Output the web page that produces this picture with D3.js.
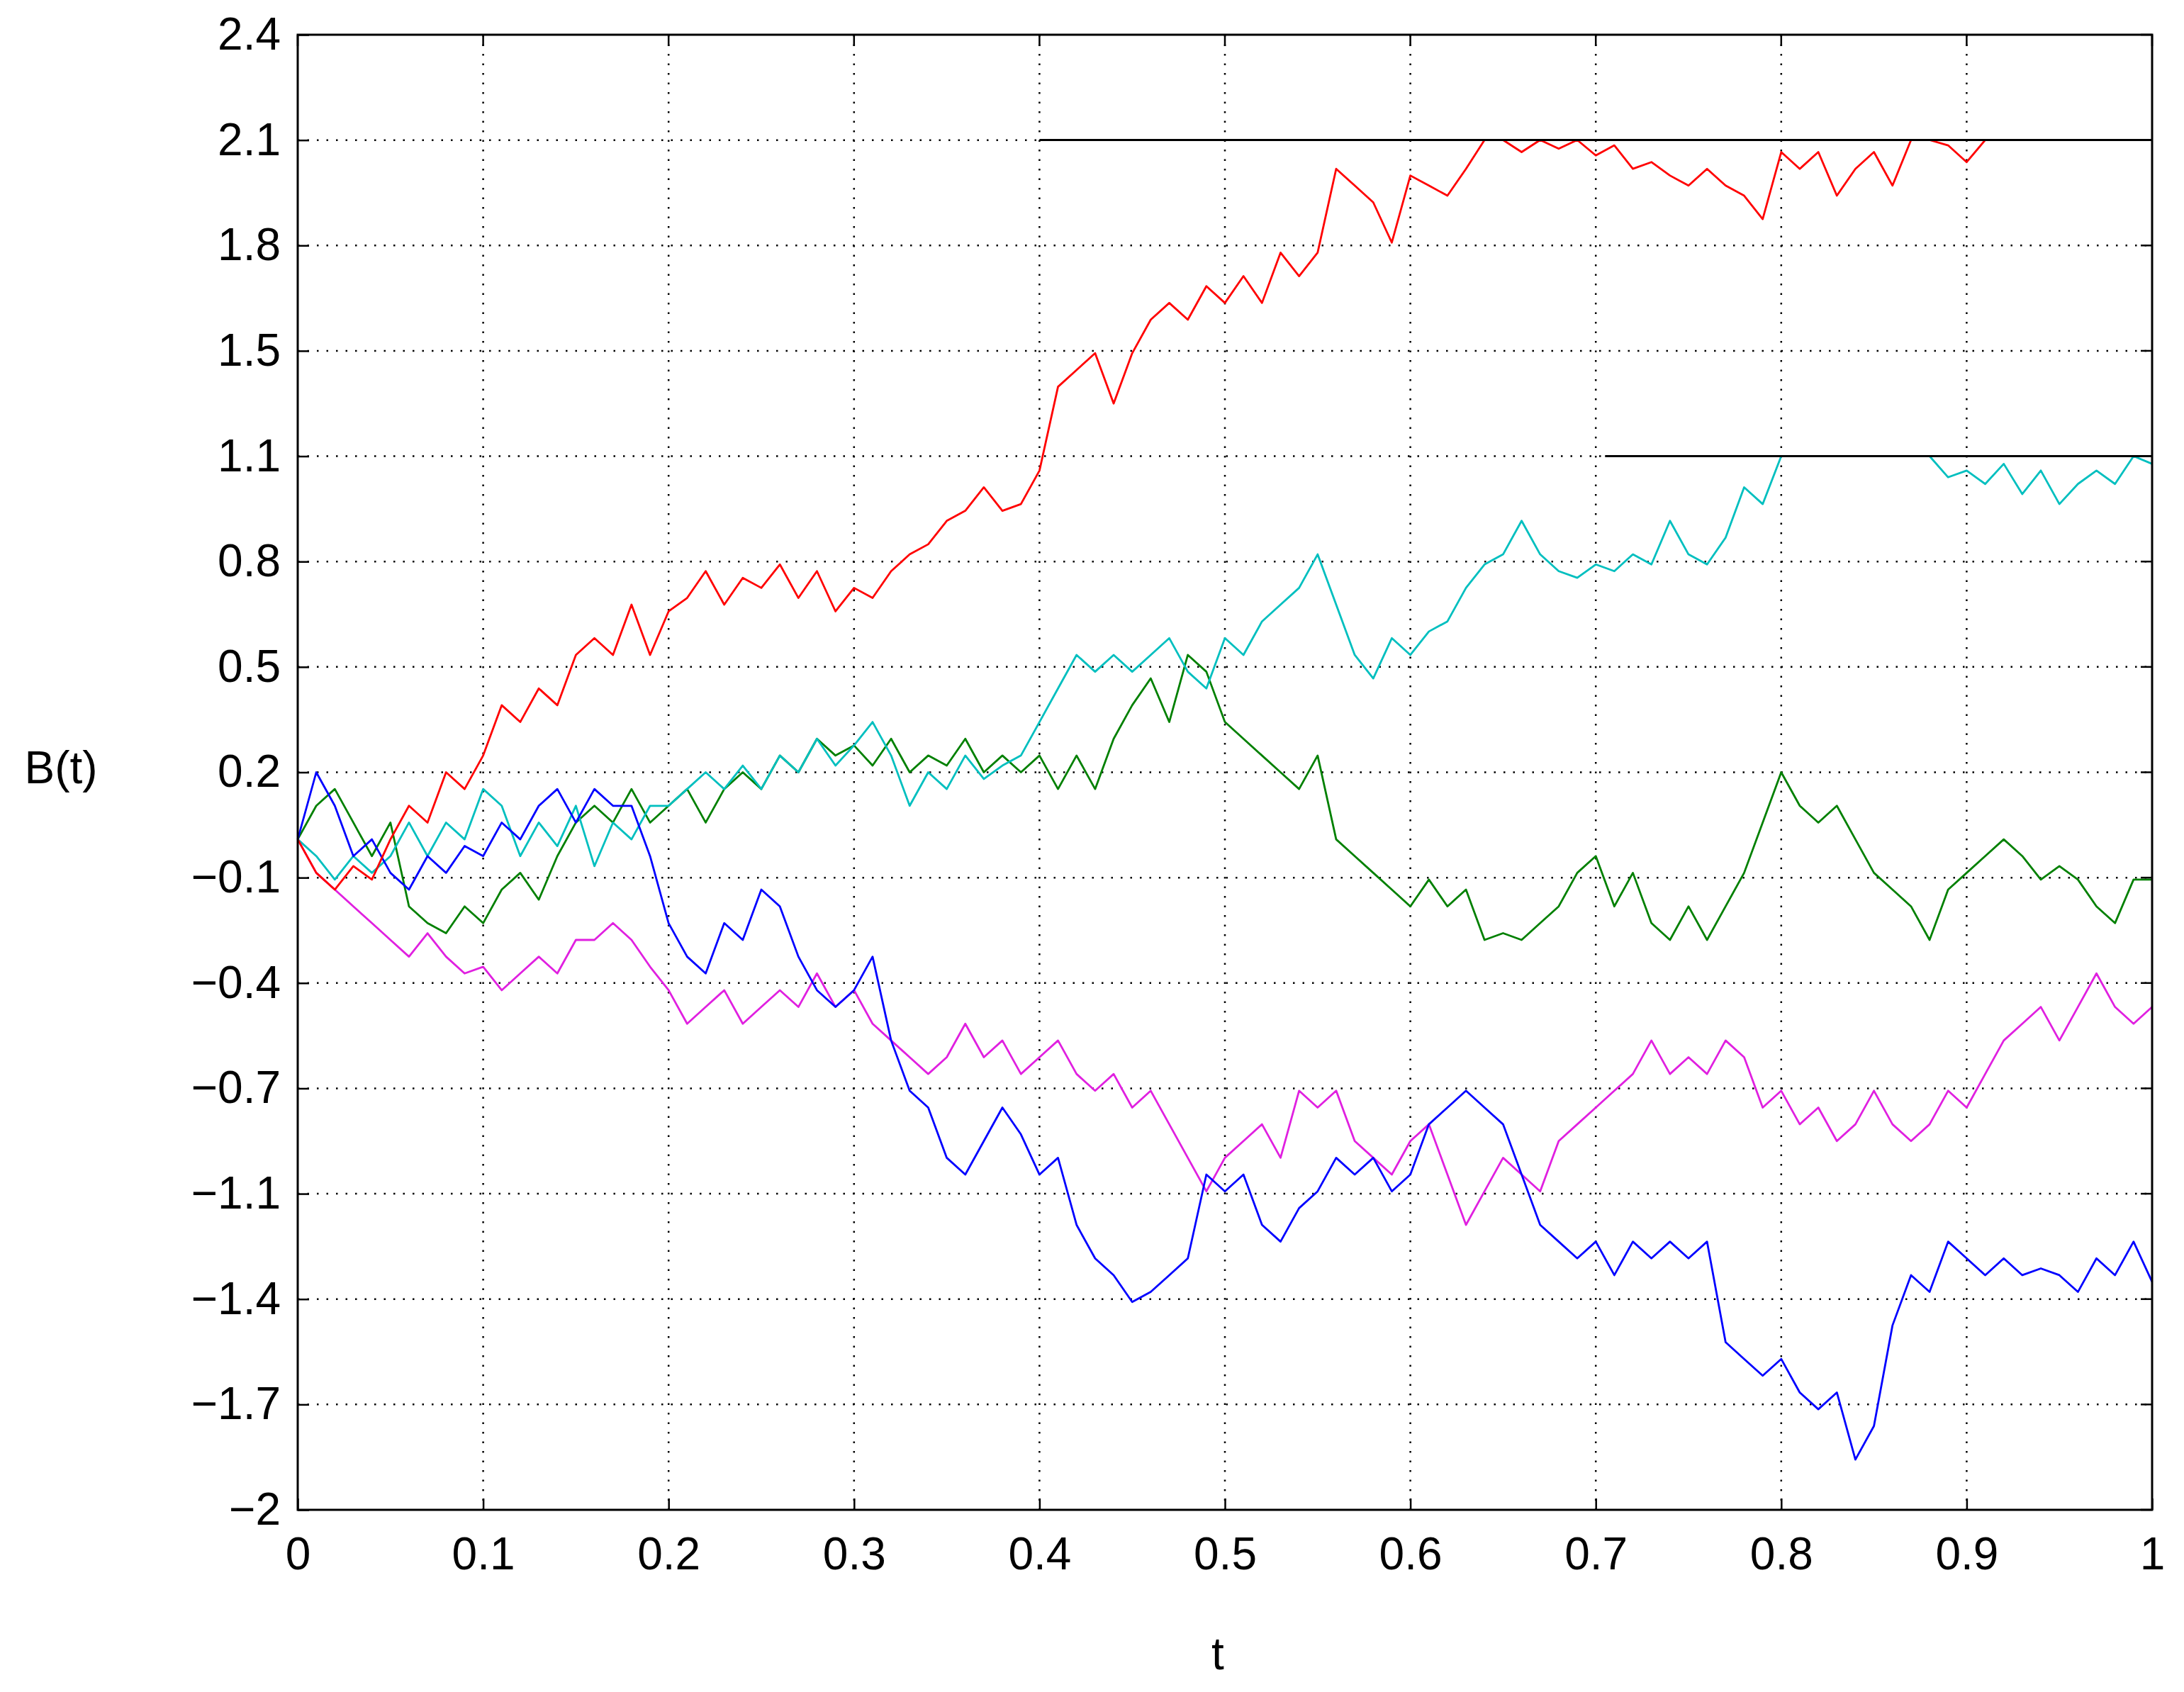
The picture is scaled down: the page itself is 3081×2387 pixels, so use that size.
<!DOCTYPE html>
<html><head><meta charset="utf-8">
<script src="https://cdn.jsdelivr.net/npm/d3@7/dist/d3.min.js"></script>
<style>body{margin:0;background:#fff}</style></head>
<body><svg id="c" width="3081" height="2387"></svg>
<script>
const xTicks=[0,0.1,0.2,0.3,0.4,0.5,0.6,0.7,0.8,0.9,1];
const xTickLabels=["0","0.1","0.2","0.3","0.4","0.5","0.6","0.7","0.8","0.9","1"];
const yTickLabels=["−2","−1.7","−1.4","−1.1","−0.7","−0.4","−0.1","0.2","0.5","0.8","1.1","1.5","1.8","2.1","2.4"];
const step=0.01;
const red=[0,-0.1,-0.15,-0.08,-0.12,0,0.1,0.05,0.2,0.15,0.25,0.4,0.35,0.45,0.4,0.55,0.6,0.55,0.7,0.55,0.68,0.72,0.8,0.7,0.78,0.75,0.82,0.72,0.8,0.68,0.75,0.72,0.8,0.85,0.88,0.95,0.98,1.05,0.98,1.0,1.1,1.35,1.4,1.45,1.3,1.45,1.55,1.6,1.55,1.65,1.6,1.68,1.6,1.75,1.68,1.75,2.0,1.95,1.9,1.78,1.98,1.95,1.92,2.0,2.086,2.086,2.05,2.086,2.06,2.086,2.04,2.07,2.0,2.02,1.98,1.95,2.0,1.95,1.92,1.85,2.05,2.0,2.05,1.92,2.0,2.05,1.95,2.086,2.086,2.07,2.02,2.086,2.086];
const cyan=[0,-0.05,-0.12,-0.05,-0.1,-0.05,0.05,-0.05,0.05,0,0.15,0.1,-0.05,0.05,-0.02,0.1,-0.08,0.05,0,0.1,0.1,0.15,0.2,0.15,0.22,0.15,0.25,0.2,0.3,0.22,0.28,0.35,0.25,0.1,0.2,0.15,0.25,0.18,0.22,0.25,0.35,0.45,0.55,0.5,0.55,0.5,0.55,0.6,0.5,0.45,0.6,0.55,0.65,0.7,0.75,0.85,0.7,0.55,0.48,0.6,0.55,0.62,0.65,0.75,0.82,0.85,0.95,0.85,0.8,0.78,0.82,0.8,0.85,0.82,0.95,0.85,0.82,0.9,1.05,1.0,1.143,1.143,1.143,1.143,1.143,1.143,1.143,1.143,1.143,1.08,1.1,1.06,1.12,1.03,1.1,1.0,1.06,1.1,1.06,1.143,1.12];
const green=[0,0.1,0.15,0.05,-0.05,0.05,-0.2,-0.25,-0.28,-0.2,-0.25,-0.15,-0.1,-0.18,-0.05,0.05,0.1,0.05,0.15,0.05,0.1,0.15,0.05,0.15,0.2,0.15,0.25,0.2,0.3,0.25,0.28,0.22,0.3,0.2,0.25,0.22,0.3,0.2,0.25,0.2,0.25,0.15,0.25,0.15,0.3,0.4,0.48,0.35,0.55,0.5,0.35,0.3,0.25,0.2,0.15,0.25,0.0,-0.05,-0.1,-0.15,-0.2,-0.12,-0.2,-0.15,-0.3,-0.28,-0.3,-0.25,-0.2,-0.1,-0.05,-0.2,-0.1,-0.25,-0.3,-0.2,-0.3,-0.2,-0.1,0.05,0.2,0.1,0.05,0.1,0.0,-0.1,-0.15,-0.2,-0.3,-0.15,-0.1,-0.05,0.0,-0.05,-0.12,-0.08,-0.12,-0.2,-0.25,-0.12,-0.12];
const blue=[0,0.2,0.1,-0.05,0.0,-0.1,-0.15,-0.05,-0.1,-0.02,-0.05,0.05,0.0,0.1,0.15,0.05,0.15,0.1,0.1,-0.05,-0.25,-0.35,-0.4,-0.25,-0.3,-0.15,-0.2,-0.35,-0.45,-0.5,-0.45,-0.35,-0.6,-0.75,-0.8,-0.95,-1.0,-0.9,-0.8,-0.88,-1.0,-0.95,-1.15,-1.25,-1.3,-1.38,-1.35,-1.3,-1.25,-1.0,-1.05,-1.0,-1.15,-1.2,-1.1,-1.05,-0.95,-1.0,-0.95,-1.05,-1.0,-0.85,-0.8,-0.75,-0.8,-0.85,-1.0,-1.15,-1.2,-1.25,-1.2,-1.3,-1.2,-1.25,-1.2,-1.25,-1.2,-1.5,-1.55,-1.6,-1.55,-1.65,-1.7,-1.65,-1.85,-1.75,-1.45,-1.3,-1.35,-1.2,-1.25,-1.3,-1.25,-1.3,-1.28,-1.3,-1.35,-1.25,-1.3,-1.2,-1.32];
const magenta=[0,-0.1,-0.15,-0.2,-0.25,-0.3,-0.35,-0.28,-0.35,-0.4,-0.38,-0.45,-0.4,-0.35,-0.4,-0.3,-0.3,-0.25,-0.3,-0.38,-0.45,-0.55,-0.5,-0.45,-0.55,-0.5,-0.45,-0.5,-0.4,-0.5,-0.45,-0.55,-0.6,-0.65,-0.7,-0.65,-0.55,-0.65,-0.6,-0.7,-0.65,-0.6,-0.7,-0.75,-0.7,-0.8,-0.75,-0.85,-0.95,-1.05,-0.95,-0.9,-0.85,-0.95,-0.75,-0.8,-0.75,-0.9,-0.95,-1.0,-0.9,-0.85,-1.0,-1.15,-1.05,-0.95,-1.0,-1.05,-0.9,-0.85,-0.8,-0.75,-0.7,-0.6,-0.7,-0.65,-0.7,-0.6,-0.65,-0.8,-0.75,-0.85,-0.8,-0.9,-0.85,-0.75,-0.85,-0.9,-0.85,-0.75,-0.8,-0.7,-0.6,-0.55,-0.5,-0.6,-0.5,-0.4,-0.5,-0.55,-0.5];
const series=[{v:green,c:"#008000"},{v:cyan,c:"#00bfbf"},{v:magenta,c:"#e020e0"},{v:blue,c:"#0000ff"},{v:red,c:"#ff0000"}];
const bounds=[{y:2.086,x0:0.4,x1:1},{y:1.143,x0:0.705,x1:1}];

const L=420,R=3036,T=49,B=2130;
const svg=d3.select("#c");
const x=d3.scaleLinear().domain([0,1]).range([L,R]);
const y=d3.scaleLinear().domain([-2,2.4]).range([B,T]);
const yTicks=yTickLabels.map((d,i)=>-2+i*4.4/14);
const g=svg.append("g");
g.selectAll(".gx").data(xTicks.slice(1,-1)).join("line").attr("x1",d=>x(d)).attr("x2",d=>x(d)).attr("y1",T).attr("y2",B)
 .attr("stroke","#000").attr("stroke-width",2.5).attr("stroke-dasharray","2.5,11");
g.selectAll(".gy").data(yTicks.slice(1,-1)).join("line").attr("y1",d=>y(d)).attr("y2",d=>y(d)).attr("x1",L).attr("x2",R)
 .attr("stroke","#000").attr("stroke-width",2.5).attr("stroke-dasharray","2.5,11");
const line=d3.line().x((d,i)=>x(i*step)).y(d=>y(d));
series.forEach(s=>svg.append("path").attr("d",line(s.v)).attr("fill","none").attr("stroke",s.c).attr("stroke-width",2.8).attr("stroke-linejoin","round"));
svg.selectAll(".b").data(bounds).join("line").attr("x1",d=>x(d.x0)).attr("x2",d=>x(d.x1)).attr("y1",d=>y(d.y)).attr("y2",d=>y(d.y)).attr("stroke","#000").attr("stroke-width",3);
const xa=svg.append("g").attr("transform",`translate(0,${B})`).call(d3.axisBottom(x).tickValues(xTicks).tickFormat((d,i)=>xTickLabels[i]).tickSize(-16).tickPadding(26));
const ya=svg.append("g").attr("transform",`translate(${L},0)`).call(d3.axisLeft(y).tickValues(yTicks).tickFormat((d,i)=>yTickLabels[i]).tickSize(-16).tickPadding(24));
[xa,ya].forEach(a=>{a.select(".domain").remove();a.selectAll("line").attr("stroke","#000").attr("stroke-width",2.5);
 a.selectAll("text").attr("font-family","Liberation Sans, Arial, sans-serif").attr("font-size",64).attr("fill","#000");});
xa.selectAll("text").attr("dy","0.9em");
svg.append("rect").attr("x",L).attr("y",T).attr("width",R-L).attr("height",B-T).attr("fill","none").attr("stroke","#000").attr("stroke-width",3);
svg.append("g").selectAll("line").data(xTicks).join("line").attr("x1",d=>x(d)).attr("x2",d=>x(d)).attr("y1",T).attr("y2",T+16).attr("stroke","#000").attr("stroke-width",2.5);
svg.append("g").selectAll("line").data(yTicks).join("line").attr("y1",d=>y(d)).attr("y2",d=>y(d)).attr("x1",R).attr("x2",R-16).attr("stroke","#000").attr("stroke-width",2.5);
svg.append("text").attr("x",86).attr("y",1105).attr("text-anchor","middle").attr("font-family","Liberation Sans, Arial, sans-serif").attr("font-size",64).text("B(t)");
svg.append("text").attr("x",1718).attr("y",2355).attr("text-anchor","middle").attr("font-family","Liberation Sans, Arial, sans-serif").attr("font-size",64).text("t");
</script></body></html>
